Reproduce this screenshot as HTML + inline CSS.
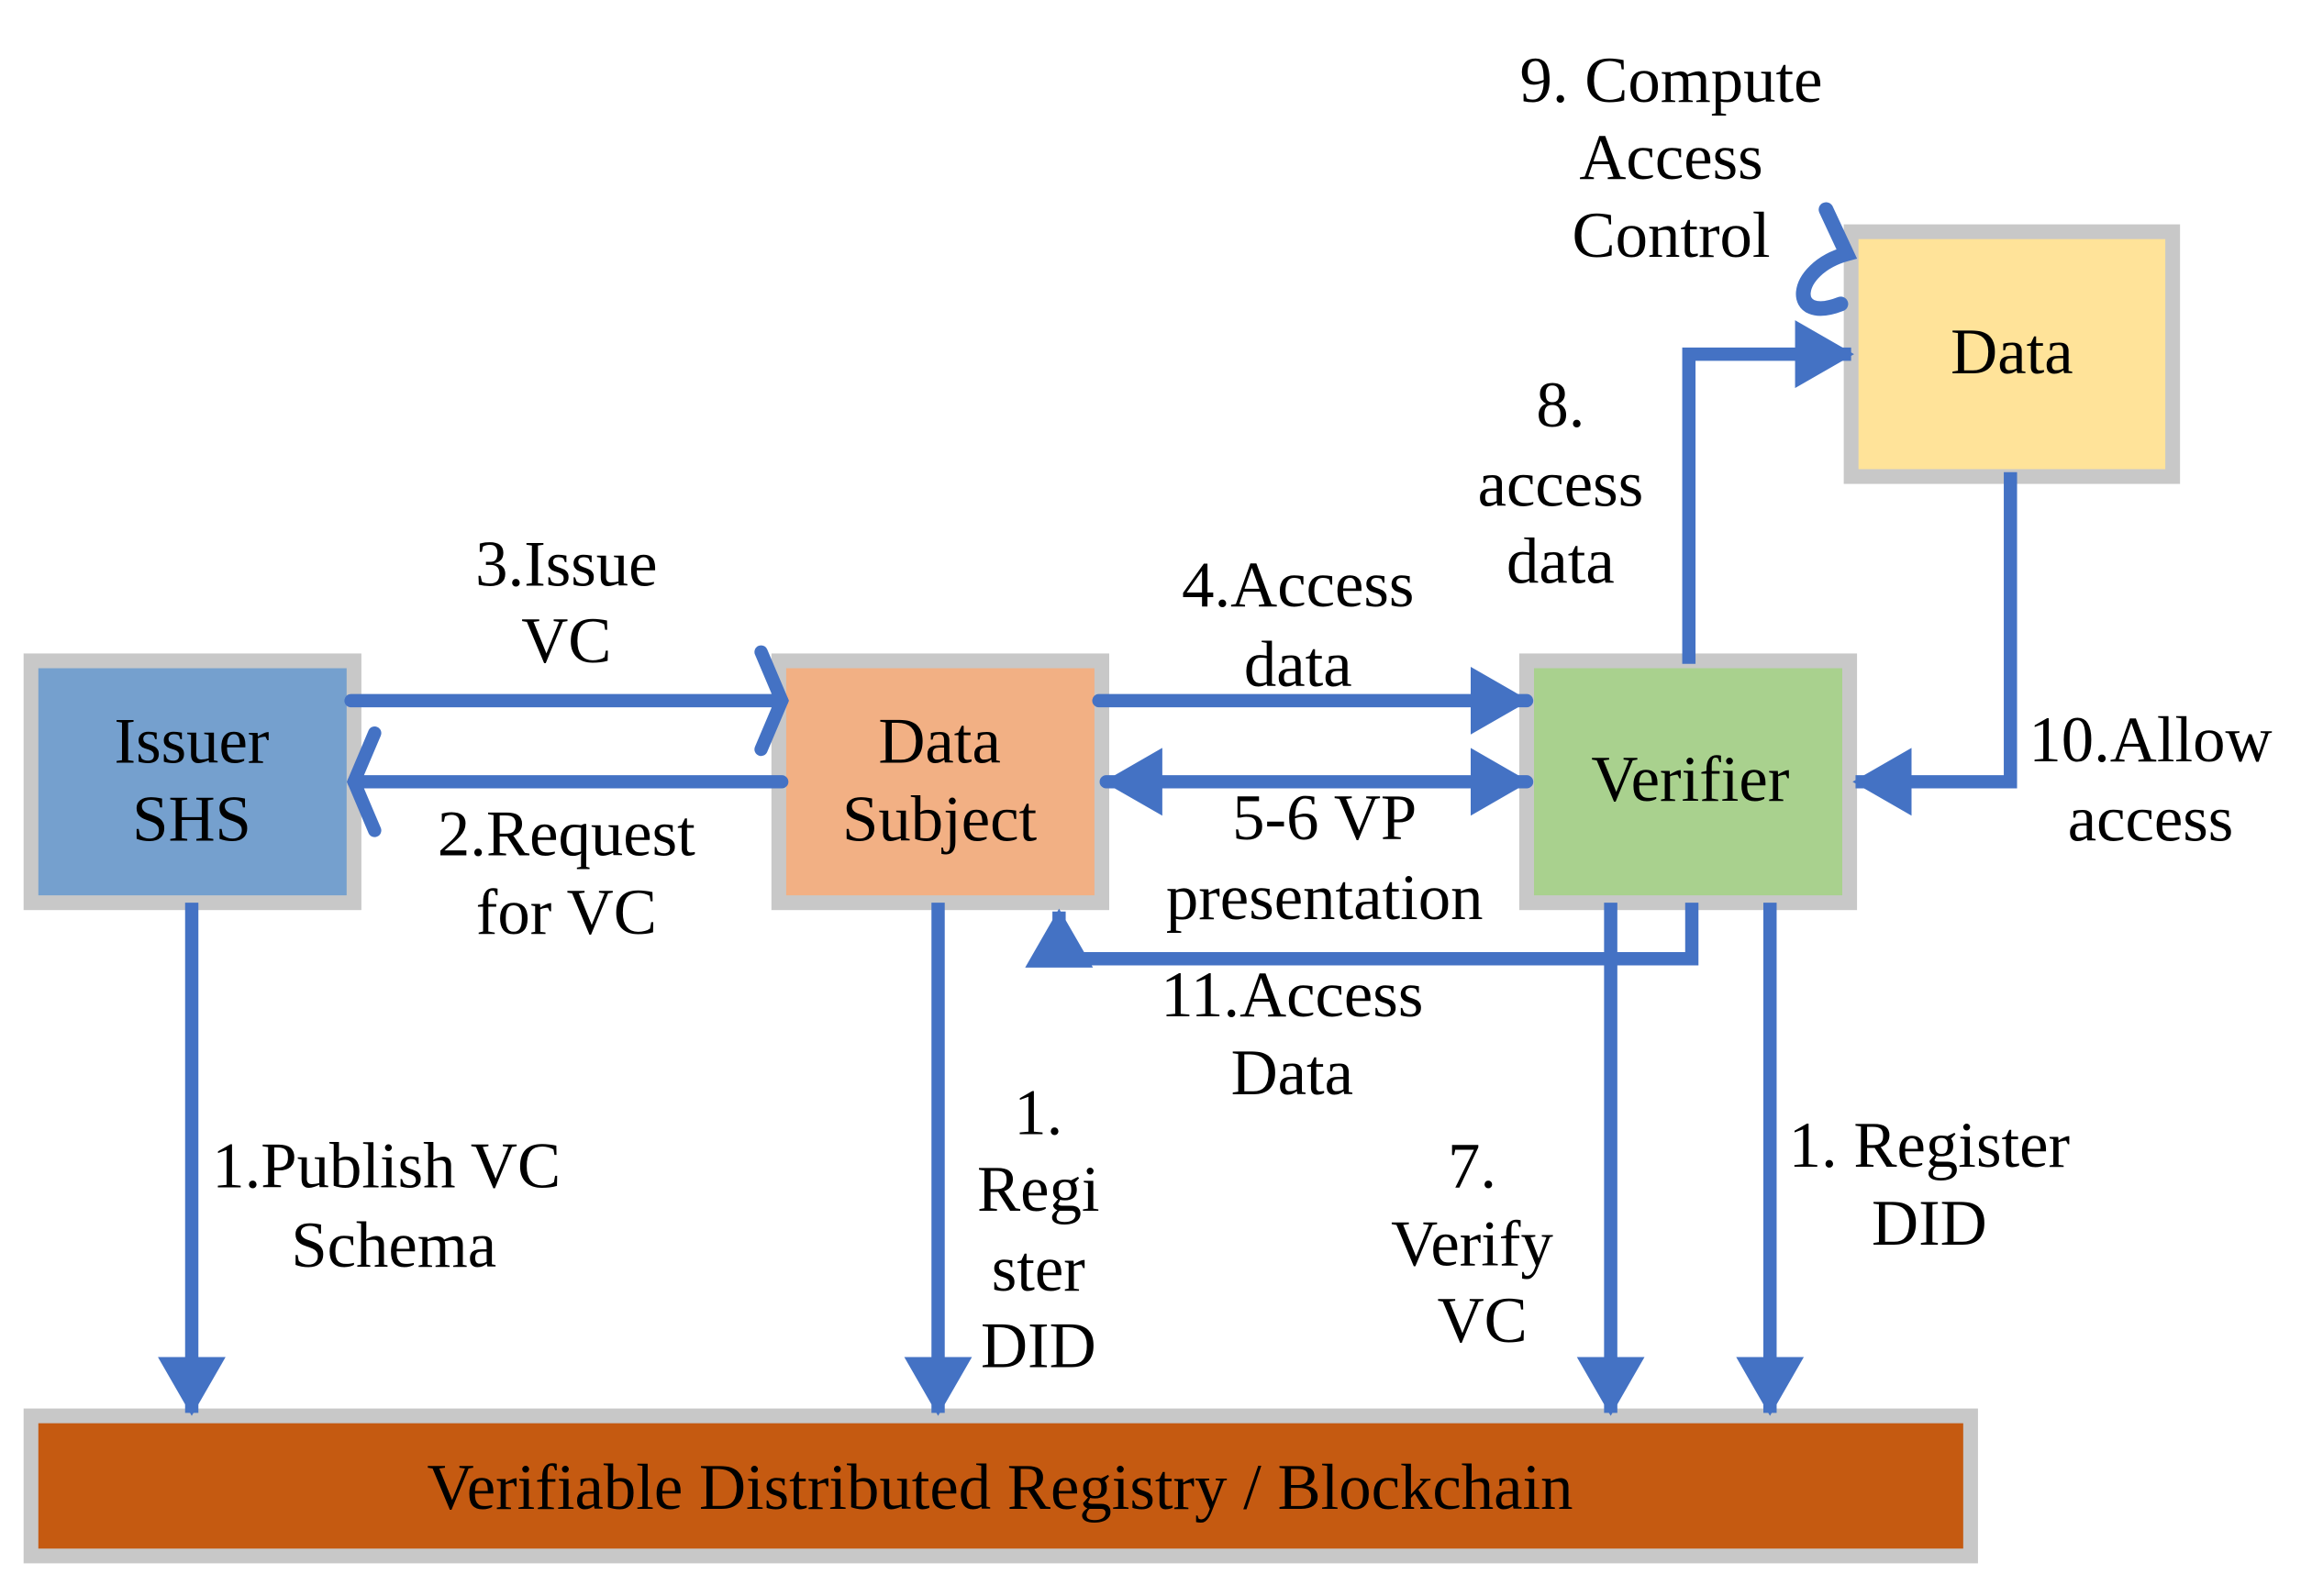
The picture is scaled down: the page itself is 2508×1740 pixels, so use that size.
<!DOCTYPE html>
<html><head><meta charset="utf-8"><style>
html,body{margin:0;padding:0;background:#fff;}
svg{display:block;}
text{font-family:"Liberation Serif",serif;font-size:44px;fill:#000;text-anchor:middle;}
</style></head><body>
<svg width="2508" height="1740" viewBox="0 0 1560 1082" xmlns="http://www.w3.org/2000/svg">
<defs>
<marker id="tri" markerUnits="userSpaceOnUse" markerWidth="40" markerHeight="46" refX="38" refY="23" orient="auto"><path d="M0,0 L40,23 L0,46 Z" fill="#4472C4"/></marker>
<marker id="tris" markerUnits="userSpaceOnUse" markerWidth="40" markerHeight="46" refX="38" refY="23" orient="auto-start-reverse"><path d="M0,0 L40,23 L0,46 Z" fill="#4472C4"/></marker>
</defs>
<g fill="#C8C8C8">
<rect x="16" y="443" width="229" height="174"/>
<rect x="523" y="443" width="229" height="174"/>
<rect x="1030" y="443" width="229" height="174"/>
<rect x="1250" y="152" width="228" height="176"/>
<rect x="16" y="955" width="1325" height="105"/>
</g>
<rect x="26" y="453" width="209" height="154" fill="#75A0CE"/>
<rect x="533" y="453" width="209" height="154" fill="#F2B084"/>
<rect x="1040" y="453" width="209" height="154" fill="#A9D18E"/>
<rect x="1260" y="162" width="208" height="156" fill="#FFE399"/>
<rect x="26" y="965" width="1305" height="85" fill="#C55A11"/>

<g stroke="#4472C4" stroke-width="9" fill="none" stroke-linecap="round" stroke-linejoin="miter">
<line x1="238" y1="475" x2="530" y2="475"/>
<path d="M516,442 L530,475 L516,508"/>
<line x1="530" y1="530" x2="240" y2="530"/>
<path d="M254,497 L240,530 L254,563"/>
<line x1="745" y1="475" x2="1035" y2="475" marker-end="url(#tri)"/>
<line x1="750" y1="530" x2="1035" y2="530" marker-start="url(#tris)" marker-end="url(#tri)"/>
<path d="M1147,612 L1147,650 L718,650 L718,618" stroke-linecap="butt" marker-end="url(#tri)"/>
<path d="M1145,450 L1145,240 L1255,240" stroke-linecap="butt" marker-end="url(#tri)"/>
<path d="M1363,320 L1363,530 L1258,530" stroke-linecap="butt" marker-end="url(#tri)"/>
<path d="M1238,142 L1252,172 C1215,182 1212,220 1248,206" stroke-width="10"/>
<line x1="130" y1="612" x2="130" y2="958" stroke-linecap="butt" marker-end="url(#tri)"/>
<line x1="636" y1="612" x2="636" y2="958" stroke-linecap="butt" marker-end="url(#tri)"/>
<line x1="1092" y1="612" x2="1092" y2="958" stroke-linecap="butt" marker-end="url(#tri)"/>
<line x1="1200" y1="612" x2="1200" y2="958" stroke-linecap="butt" marker-end="url(#tri)"/>
</g>

<text x="130" y="517">Issuer</text><text x="130" y="570">SHS</text>
<text x="637" y="517">Data</text><text x="637" y="570">Subject</text>
<text x="1146" y="543">Verifier</text>
<text x="1364" y="253">Data</text>
<text x="678" y="1023">Verifiable Distributed Registry / Blockchain</text>

<text x="384" y="397">3.Issue</text><text x="384" y="449">VC</text>
<text x="384" y="580">2.Request</text><text x="384" y="633">for VC</text>
<text x="880" y="411">4.Access</text><text x="880" y="465">data</text>
<text x="898" y="569">5-6 VP</text><text x="898" y="623">presentation</text>
<text x="876" y="689">11.Access</text><text x="876" y="742">Data</text>
<text x="1058" y="289">8.</text><text x="1058" y="343">access</text><text x="1058" y="395">data</text>
<text x="1133" y="69">9. Compute</text><text x="1133" y="121">Access</text><text x="1133" y="174">Control</text>
<text x="1458" y="516">10.Allow</text><text x="1458" y="570">access</text>
<text x="262" y="805">1.Publish VC</text><text x="267" y="859">Schema</text>
<text x="704" y="769">1.</text><text x="704" y="821">Regi</text><text x="704" y="875">ster</text><text x="704" y="927">DID</text>
<text x="998" y="805">7.</text><text x="998" y="858">Verify</text><text x="1005" y="910">VC</text>
<text x="1308" y="791">1. Register</text><text x="1308" y="844">DID</text>
</svg>
</body></html>
